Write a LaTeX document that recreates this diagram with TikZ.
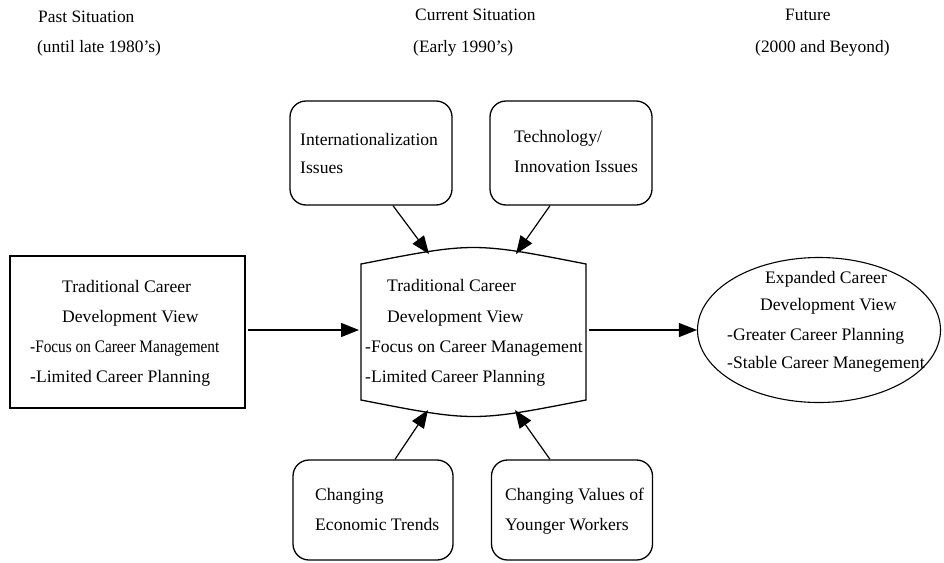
\documentclass[tikz,border=0pt]{standalone}
\usepackage{fontspec}
\setmainfont{Liberation Serif}
\usetikzlibrary{shapes.geometric,arrows.meta}
\tikzset{
  txt/.style={anchor=base west, inner sep=0pt, font=\fontsize{17.6}{20}\selectfont},
  hdr/.style={anchor=base west, inner sep=0pt, font=\fontsize{17.4}{20}\selectfont},
  rbox/.style={draw, line width=1.3pt, rounded corners=16pt, minimum width=162pt, minimum height=104pt, inner sep=0pt},
  sbox/.style={draw, line width=1.3pt, minimum width=235pt, minimum height=152pt, inner sep=0pt},
  ell/.style={draw, line width=1.1pt, ellipse, minimum width=243pt, minimum height=145pt, inner sep=0pt},
  barrel/.style={draw, line width=1.3pt},
  arr/.style={line width=1.2pt, -{Triangle[length=18pt,width=14pt]}},
}
\begin{document}
\begin{tikzpicture}[x=1pt,y=-1pt]
\useasboundingbox (0,0) rectangle (944,562);
% headers
\node[hdr] (h1) at (38,22) {Past Situation};
\node[hdr] (h1b) at (37,52) {(until late 1980's)};
\node[hdr] (h2) at (415,20) {Current Situation};
\node[hdr] (h2b) at (413,52) {(Early 1990's)};
\node[hdr] (h3) at (785,20) {Future};
\node[hdr] (h3b) at (755,52) {(2000 and Beyond)};
% top boxes
\node[rbox] (intl) at (371,153) {};
\node[txt] (intlA) at (300,145) {Internationalization};
\node[txt] (intlB) at (300,173) {Issues};
\node[rbox] (tech) at (571,153) {};
\node[txt] (techA) at (514,142) {Technology/};
\node[txt] (techB) at (514,172) {Innovation Issues};
% bottom boxes
\node[rbox, minimum width=160pt, minimum height=100pt] (econ) at (373,510) {};
\node[txt] (econA) at (315,500) {Changing};
\node[txt] (econB) at (315,530) {Economic Trends};
\node[rbox, minimum width=161pt, minimum height=100pt] (young) at (572,510) {};
\node[txt] (youngA) at (505,500) {Changing Values of};
\node[txt] (youngB) at (505,530) {Younger Workers};
% left box
\node[sbox] (past) at (127.5,332) {};
\node[txt] (pastA) at (62,292) {Traditional Career};
\node[txt] (pastB) at (62,322) {Development View};
\node[txt, xscale=0.87] (pastC) at (30,352) {-Focus on Career Management};
\node[txt] (pastD) at (30,382) {-Limited Career Planning};
% central barrel
\coordinate (ctl) at (361,264);
\coordinate (ctr) at (586,264);
\coordinate (cbr) at (586,400);
\coordinate (cbl) at (361,400);
\draw[barrel] (ctl) .. controls (473.5,242) .. (ctr) -- (cbr) .. controls (473.5,422) .. (cbl) -- cycle;
\coordinate (cinL) at (359,330);
\coordinate (coutR) at (589,330);
\coordinate (ct1) at (429,254);
\coordinate (ct2) at (516,254);
\coordinate (cb1) at (428,410);
\coordinate (cb2) at (515,410);
\node[txt] (curA) at (387,291) {Traditional Career};
\node[txt] (curB) at (387,322) {Development View};
\node[txt] (curC) at (365,352) {-Focus on Career Management};
\node[txt] (curD) at (365,382) {-Limited Career Planning};
% ellipse
\node[ell] (fut) at (819,330) {};
\node[txt] (futA) at (765,283) {Expanded Career};
\node[txt] (futB) at (760,310) {Development View};
\node[txt] (futC) at (727,340) {-Greater Career Planning};
\node[txt] (futD) at (727,368) {-Stable Career Manegement};
% arrows
\draw[arr] (past.east) ++(2,-2) coordinate (pe) -- (cinL);
\draw[arr] (coutR) -- (fut.west);
\draw[arr] (intl.south) ++(22,0) coordinate (is) -- (ct1);
\draw[arr] (tech.south) ++(-21,0) coordinate (ts) -- (ct2);
\draw[arr] (econ.north) ++(22,0) coordinate (es) -- (cb1);
\draw[arr] (young.north) ++(-22,0) coordinate (ys) -- (cb2);
\end{tikzpicture}
\end{document}
